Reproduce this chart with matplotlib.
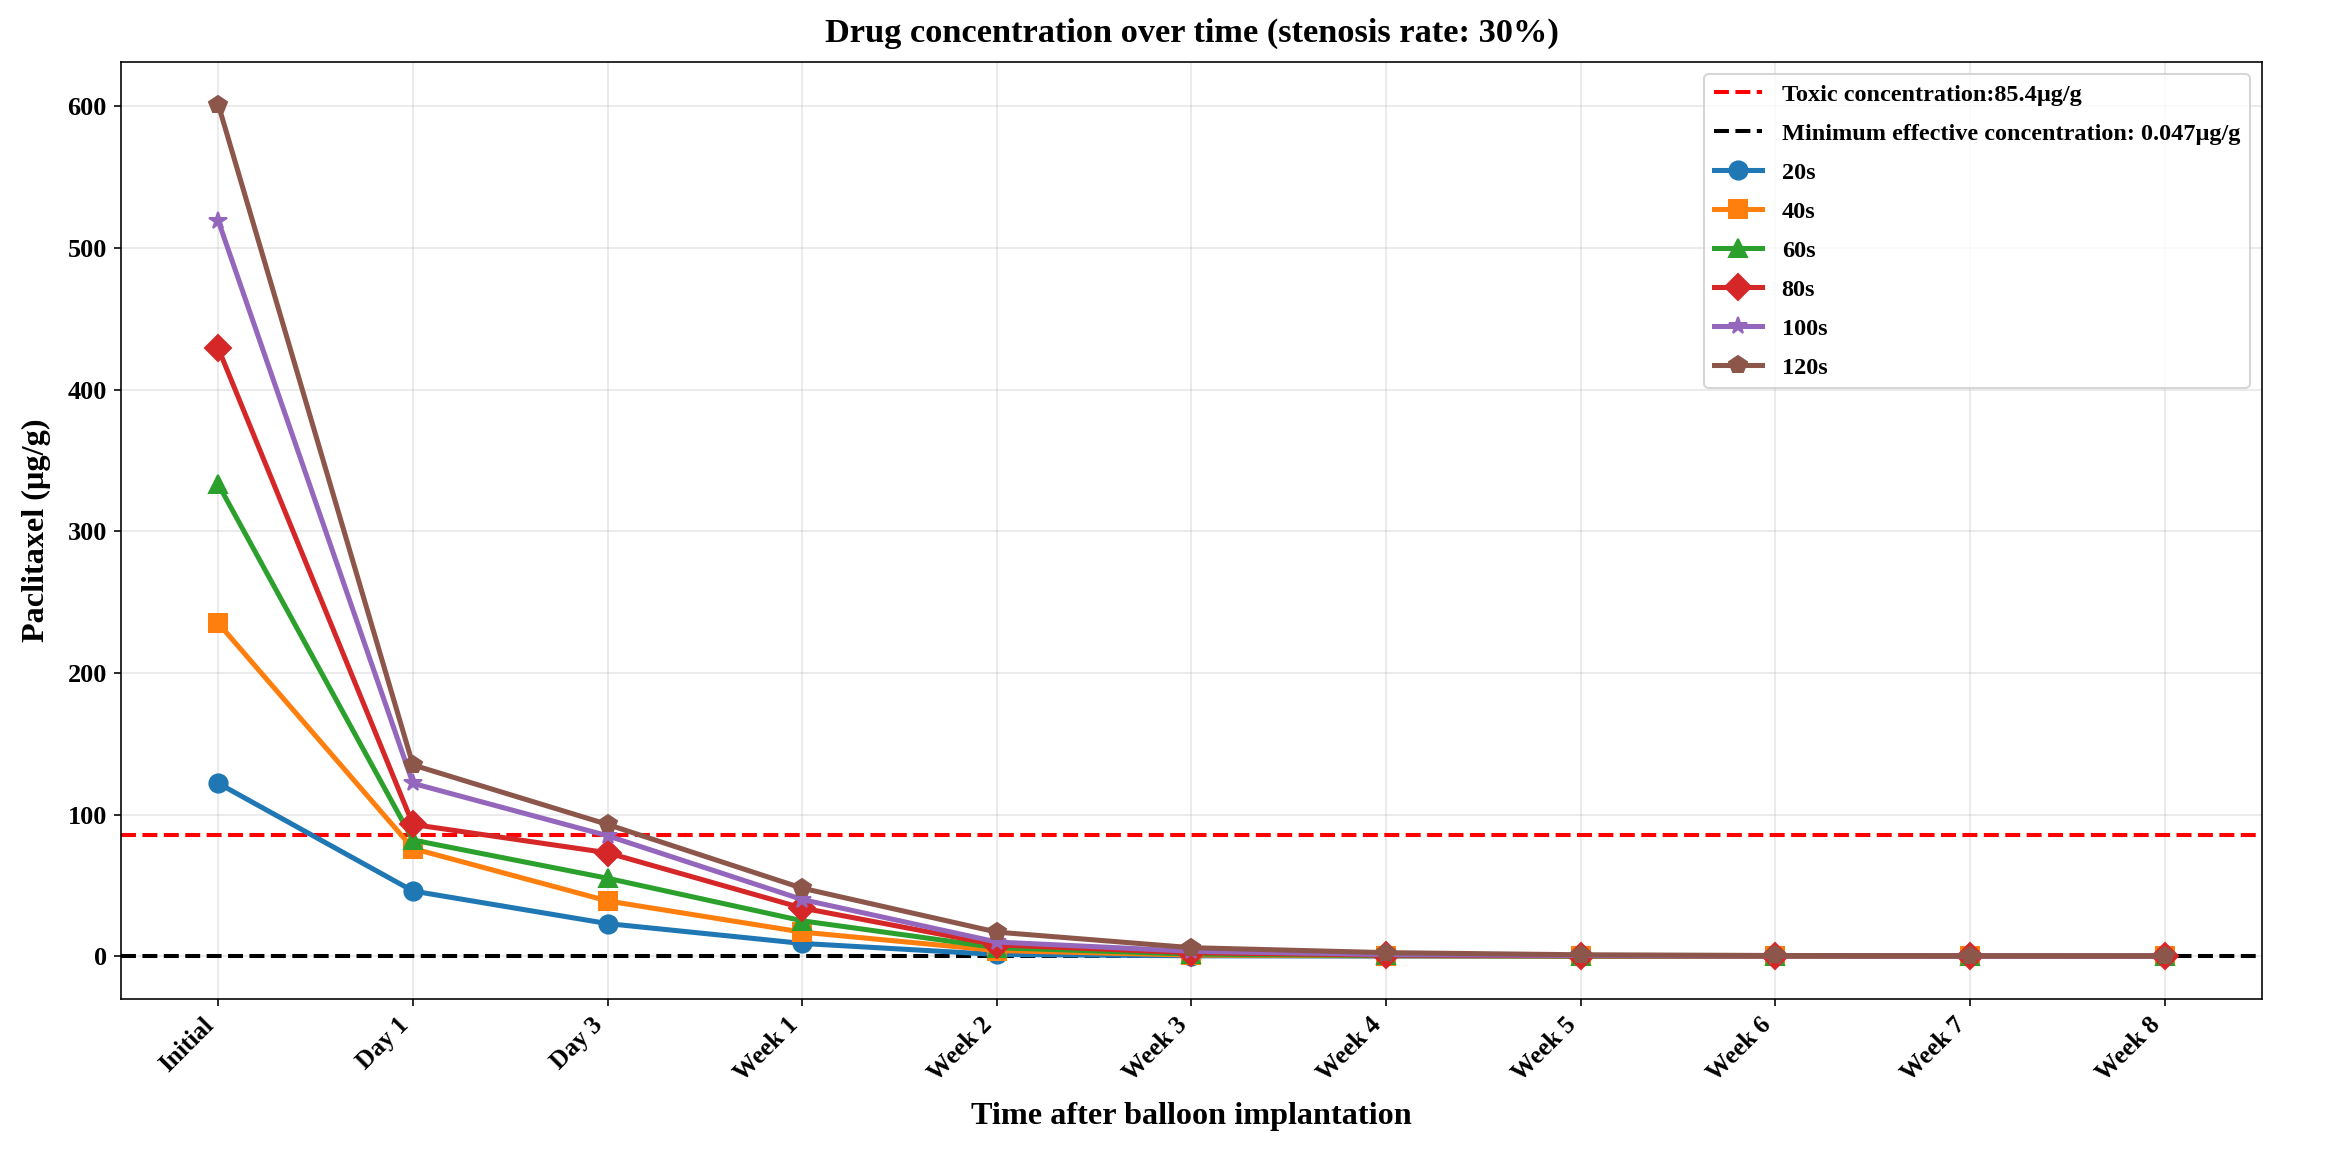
import matplotlib
matplotlib.use('Agg')
import matplotlib.pyplot as plt
import numpy as np

plt.rcParams['font.family'] = 'Liberation Serif'
plt.rcParams['font.weight'] = 'bold'

time_labels = ['Initial', 'Day 1', 'Day 3', 'Week 1', 'Week 2', 'Week 3',
               'Week 4', 'Week 5', 'Week 6', 'Week 7', 'Week 8']

# paclitaxel (ug/g) for each balloon inflation time
s20 = [122, 46, 23, 9, 1.2, 0.3, 0.1, 0.05, 0.03, 0.02, 0.01]
s40 = [235, 76, 39, 17, 4, 0.8, 0.3, 0.1, 0.06, 0.04, 0.02]
s60 = [333, 82, 55, 25, 6, 1.5, 0.5, 0.2, 0.1, 0.06, 0.04]
s80 = [429, 93, 73, 34, 8, 2.5, 0.8, 0.3, 0.15, 0.1, 0.06]
s100 = [519, 122, 85, 40, 10, 3.5, 1.2, 0.5, 0.25, 0.15, 0.1]
s120 = [601, 135, 93, 48, 17, 6, 2.5, 1.0, 0.5, 0.3, 0.2]

series = [s20, s40, s60, s80, s100, s120]
names = ['20s', '40s', '60s', '80s', '100s', '120s']
markers = ['o', 's', '^', 'D', '*', 'p']
colors = ['#1f77b4', '#ff7f0e', '#2ca02c', '#d62728', '#9467bd', '#8c564b']

toxic = 85.4
min_eff = 0.047

fig, ax = plt.subplots(figsize=(16, 7.95), dpi=145.44)
x = np.arange(len(time_labels))

ax.axhline(toxic, color='red', linestyle='--', linewidth=2,
           label='Toxic concentration:85.4μg/g')
ax.axhline(min_eff, color='black', linestyle='--', linewidth=2,
           label='Minimum effective concentration: 0.047μg/g')

for y, n, m, c in zip(series, names, markers, colors):
    ax.plot(x, y, marker=m, color=c, linewidth=2.5, markersize=9, label=n)

ax.set_xticks(x)
ax.set_xticklabels(time_labels, rotation=45, ha='right', fontsize=12.5, fontweight='bold')
for lab in ax.get_yticklabels():
    lab.set_fontsize(13)
    lab.set_fontweight('bold')
ax.set_xlabel('Time after balloon implantation', fontsize=16, fontweight='bold', labelpad=8)
ax.set_ylabel('Paclitaxel (μg/g)', fontsize=16, fontweight='bold', labelpad=8)
ax.set_title('Drug concentration over time (stenosis rate: 30%)', fontsize=17,
             fontweight='bold', pad=10)
ax.grid(True, alpha=0.3)
ax.legend(loc='upper right', prop={'weight': 'bold', 'size': 12}, labelspacing=0.7)

fig.subplots_adjust(left=0.052, right=0.972, top=0.946, bottom=0.136)
fig.savefig('out.png', dpi=145.44)
